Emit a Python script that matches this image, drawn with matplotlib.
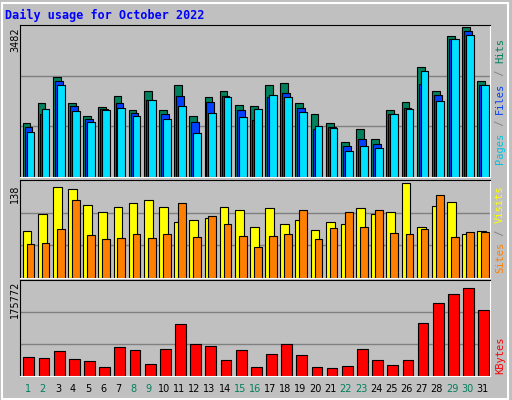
import matplotlib
matplotlib.use("Agg")
import matplotlib.pyplot as plt
import numpy as np

days = list(range(1, 32))
weekend = {1, 2, 8, 9, 15, 16, 22, 23, 29, 30}

hits = [1260, 1729, 2316, 1729, 1424, 1635, 1894, 1565, 2011, 1565, 2128, 1424, 1870, 2011, 1682, 1659,
        2128, 2175, 1729, 1471, 1260, 814, 1119, 884, 1565, 1753, 2551, 2011, 3279, 3482, 2222]
files = [1166, 1471, 2222, 1659, 1354, 1588, 1729, 1495, 1800, 1471, 1894, 1283, 1753, 1894, 1565, 1330,
         1870, 1964, 1612, 1119, 1166, 720, 884, 767, 1471, 1612, 2152, 1917, 3208, 3396, 2128]
pages = [1049, 1588, 2128, 1542, 1283, 1565, 1612, 1424, 1800, 1354, 1659, 1025, 1495, 1870, 1401, 1588,
         1917, 1870, 1518, 1189, 1142, 603, 720, 673, 1471, 1588, 2457, 1776, 3208, 3302, 2128]
visits = [69, 93, 132, 129, 106, 96, 103, 109, 114, 103, 81, 85, 88, 103, 99, 75,
          102, 78, 84, 70, 81, 78, 102, 94, 96, 138, 75, 105, 111, 64, 69]
sites = [49, 51, 72, 114, 63, 57, 58, 64, 58, 64, 109, 60, 90, 78, 61, 45,
         61, 64, 99, 57, 73, 96, 75, 99, 66, 64, 72, 121, 60, 67, 67]
kbytes = [37200, 35300, 48800, 33400, 29500, 18000, 58400, 50700, 23700, 54500, 102600, 64100, 60300, 31400,
          50700, 18000, 43000, 64100, 41100, 18000, 16000, 19900, 54500, 31400, 21800, 31400, 104600, 145000,
          162300, 175772, 131500]

W, H = 512, 400
BG = "#C0C0C0"
fig = plt.figure(figsize=(W / 100, H / 100), dpi=100, facecolor=BG)
fig.patches.append(plt.Rectangle((0.003, 0.003), 0.99, 0.99, transform=fig.transFigure,
                                 fill=False, edgecolor="white", lw=1.5))
fig.text(5 / W, 1 - 15 / H, "Daily usage for October 2022", color="#0000FF",
         fontsize=8.5, fontweight="bold", family="DejaVu Sans Mono", va="center")


def panel(top, bottom):
    ax = fig.add_axes([20 / W, 1 - bottom / H, 470 / W, (bottom - top) / H], facecolor=BG)
    ax.set_xlim(0.5, 31.5)
    for s in ax.spines.values():
        s.set_color("white")
    ax.spines["top"].set_color("black")
    ax.spines["left"].set_color("black")
    ax.set_xticks([])
    ax.set_yticks([])
    return ax


x = np.array(days)
ec = dict(edgecolor="black", linewidth=0.8, align="edge")

ax1 = panel(25, 177)
ymax = 3482 * 1.015
ax1.set_ylim(0, ymax)
for f in (1 / 3, 2 / 3):
    ax1.axhline(ymax * f, color="#808080", lw=1, zorder=0)
ax1.bar(x - 0.33, hits, 0.51, color="#00805C", **ec)
ax1.bar(x - 0.2, files, 0.51, color="#0040FF", **ec)
ax1.bar(x - 0.07, pages, 0.51, color="#00E0FF", **ec)
fig.text(15 / W, 1 - 40 / H, "3482", rotation=90, fontsize=7, va="center", ha="center")
fig.text(500 / W, 1 - 100 / H, "Pages", rotation=90, color="#00C0E0", fontsize=7.5,
         family="DejaVu Sans Mono", va="bottom", ha="center", position=(500 / W, 1 - 178 / H))

ax2 = panel(180, 278)
ymax2 = 138 * 1.035
ax2.set_ylim(0, ymax2)
for f in (1 / 3, 2 / 3):
    ax2.axhline(ymax2 * f, color="#808080", lw=1, zorder=0)
ax2.bar(x - 0.33, visits, 0.58, color="#FFFF00", **ec)
ax2.bar(x - 0.07, sites, 0.51, color="#FF8000", **ec)
fig.text(15 / W, 1 - 194 / H, "138", rotation=90, fontsize=7, va="center", ha="center")

ax3 = panel(280, 376)
ymax3 = 175772 * 1.085
ax3.set_ylim(0, ymax3)
for f in (1 / 3, 2 / 3):
    ax3.axhline(ymax3 * f, color="#808080", lw=1, zorder=0)
ax3.bar(x - 0.27, kbytes, 0.71, color="#FF0000", **ec)
fig.text(15 / W, 1 - 299 / H, "175772", rotation=90, fontsize=7, va="center", ha="center")

# right-hand vertical legends
def vlegend(parts, ycenter):
    # parts bottom to top
    total = sum(len(p) for p, _ in parts)
    ch = 6.3
    y = ycenter + total * ch / 2
    for txt, col in parts:
        fig.text(500 / W, 1 - y / H, txt, rotation=90, color=col, fontsize=7.5,
                 family="DejaVu Sans Mono", va="bottom", ha="center")
        y -= len(txt) * ch


fig.texts = [t for t in fig.texts if t.get_text() != "Pages"]
vlegend([("Pages", "#00C0E0"), (" / ", "#808080"), ("Files", "#0040FF"), (" / ", "#808080"),
         ("Hits", "#00805C")], 101)
vlegend([("Sites", "#FF8000"), (" / ", "#808080"), ("Visits", "#FFFF00")], 229)
vlegend([("KBytes", "#FF0000")], 355)

for d in days:
    col = "#00805C" if d in weekend else "black"
    fig.text((20 + (d - 0.5) * 470 / 31) / W, 1 - 389 / H, str(d), color=col,
             fontsize=7, ha="center", va="center")

fig.savefig("out.png", dpi=100, facecolor=BG)
